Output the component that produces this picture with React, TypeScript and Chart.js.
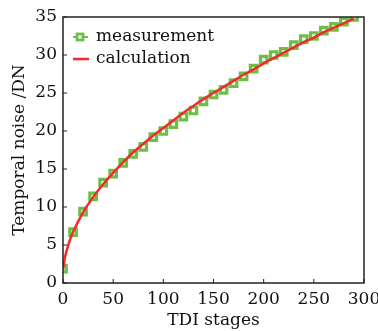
import React, { useEffect, useRef } from "react";
import { Chart, registerables } from "chart.js";

Chart.register(...registerables);

const measStages = [0, 10, 20, 30, 40, 50, 60, 70, 80, 90, 100, 110, 120, 130, 140, 150, 160, 170, 180, 190, 200, 210, 220, 230, 240, 250, 260, 270, 280, 290];
const measNoise = [1.9, 6.7, 9.4, 11.4, 13.2, 14.4, 15.8, 17.0, 17.9, 19.2, 20.0, 20.9, 21.9, 22.7, 23.9, 24.8, 25.4, 26.3, 27.2, 28.2, 29.4, 30.0, 30.4, 31.3, 32.1, 32.5, 33.2, 33.7, 34.4, 35.0];

const calcStages = [0, 2, 5, 10, 20, 30, 40, 50, 60, 70, 80, 90, 100, 110, 120, 130, 140, 150, 160, 170, 180, 190, 200, 210, 220, 230, 240, 250, 260, 270, 280, 290];
const calcNoise = [1.8, 3.4, 4.9, 6.7, 9.3, 11.3, 13.0, 14.5, 15.9, 17.2, 18.3, 19.4, 20.4, 21.4, 22.4, 23.3, 24.2, 25.0, 25.8, 26.6, 27.4, 28.1, 28.9, 29.6, 30.3, 31.0, 31.7, 32.3, 33.0, 33.6, 34.2, 34.8];

const xTicks = [0, 50, 100, 150, 200, 250, 300];
const yTicks = [0, 5, 10, 15, 20, 25, 30, 35];

const legendLabels = ["measurement", "calculation"];

const GREEN = "#6cbf45";
const RED = "#f42a2a";
const FONT = "'DejaVu Serif', serif";

export default function App() {
  const ref = useRef<HTMLCanvasElement | null>(null);

  useEffect(() => {
    const canvas = ref.current;
    if (!canvas) return;

    const framePlugin = {
      id: "frameTicks",
      afterDatasetsDraw(chart: any) {
        const { ctx, chartArea } = chart;
        const { left, right, top, bottom } = chartArea;
        ctx.save();
        ctx.strokeStyle = "#222";
        ctx.lineWidth = 1.5;
        ctx.strokeRect(left, top, right - left, bottom - top);
        ctx.lineWidth = 1;
        const xs = chart.scales.x;
        const ys = chart.scales.y;
        xTicks.forEach((t) => {
          const px = xs.getPixelForValue(t);
          ctx.beginPath();
          ctx.moveTo(px, bottom);
          ctx.lineTo(px, bottom - 4);
          ctx.stroke();
        });
        yTicks.forEach((t) => {
          const py = ys.getPixelForValue(t);
          ctx.beginPath();
          ctx.moveTo(left, py);
          ctx.lineTo(left + 4, py);
          ctx.stroke();
        });
        // legend
        ctx.font = `17px ${FONT}`;
        ctx.textBaseline = "middle";
        const lx = left + 10;
        const ly1 = top + 20;
        const ly2 = top + 42;
        ctx.strokeStyle = GREEN;
        ctx.lineWidth = 2;
        ctx.beginPath();
        ctx.moveTo(lx, ly1);
        ctx.lineTo(lx + 15, ly1);
        ctx.stroke();
        ctx.lineWidth = 2.8;
        ctx.fillStyle = "#fff";
        ctx.fillRect(lx + 4, ly1 - 3, 6, 6);
        ctx.strokeRect(lx + 4, ly1 - 3, 6, 6);
        ctx.strokeStyle = RED;
        ctx.lineWidth = 2.5;
        ctx.beginPath();
        ctx.moveTo(lx, ly2);
        ctx.lineTo(lx + 16, ly2);
        ctx.stroke();
        ctx.fillStyle = "#111";
        ctx.fillText(legendLabels[0], lx + 23, ly1);
        ctx.fillText(legendLabels[1], lx + 23, ly2);
        ctx.restore();
      },
    };

    const chart = new Chart(canvas, {
      type: "scatter",
      data: {
        datasets: [
          {
            label: legendLabels[1],
            data: calcStages.map((x, i) => ({ x, y: calcNoise[i] })),
            showLine: true,
            borderColor: RED,
            borderWidth: 2.5,
            pointRadius: 0,
            tension: 0.3,
            fill: false,
            order: 0,
          },
          {
            label: legendLabels[0],
            data: measStages.map((x, i) => ({ x, y: measNoise[i] })),
            showLine: false,
            pointStyle: "rect",
            pointRadius: 4.6,
            pointBorderWidth: 3.2,
            pointBorderColor: GREEN,
            pointBackgroundColor: "#ffffff",
            borderColor: GREEN,
            backgroundColor: "#ffffff",
            order: 1,
          },
        ],
      },
      options: {
        animation: false,
        responsive: false,
        layout: { padding: { top: 17, right: 14, left: 9, bottom: 0 } },
        plugins: {
          legend: { display: false },
          tooltip: { enabled: false },
        },
        scales: {
          x: {
            type: "linear",
            min: 0,
            max: 300,
            afterBuildTicks: (scale: any) => {
              scale.ticks = xTicks.map((v) => ({ value: v }));
            },
            afterFit: (scale: any) => {
              scale.height = 48;
              scale.paddingLeft = 0;
              scale.paddingRight = 0;
            },
            grid: { display: false, drawTicks: false },
            border: { display: false },
            ticks: {
              color: "#111",
              font: { family: FONT, size: 17 },
              padding: 6,
              maxRotation: 0,
              autoSkip: false,
            },
            title: {
              display: true,
              text: "TDI stages",
              color: "#111",
              font: { family: FONT, size: 17 },
              padding: { top: -3, bottom: 0 },
            },
          },
          y: {
            type: "linear",
            min: 0,
            max: 35,
            afterBuildTicks: (scale: any) => {
              scale.ticks = yTicks.map((v) => ({ value: v }));
            },
            afterFit: (scale: any) => {
              scale.width = 54;
              scale.paddingTop = 0;
              scale.paddingBottom = 0;
            },
            grid: { display: false, drawTicks: false },
            border: { display: false },
            ticks: {
              color: "#111",
              font: { family: FONT, size: 17 },
              padding: 6,
              autoSkip: false,
            },
            title: {
              display: true,
              text: "Temporal noise /DN",
              color: "#111",
              font: { family: FONT, size: 17 },
              padding: { top: 0, bottom: 1 },
            },
          },
        },
      },
      plugins: [framePlugin],
    });

    return () => chart.destroy();
  }, []);

  return (
    <div style={{ position: "fixed", left: 0, top: 0, width: 378, height: 331, background: "#fff" }}>
      <canvas ref={ref} width={378} height={331} style={{ width: 378, height: 331 }} />
    </div>
  );
}
